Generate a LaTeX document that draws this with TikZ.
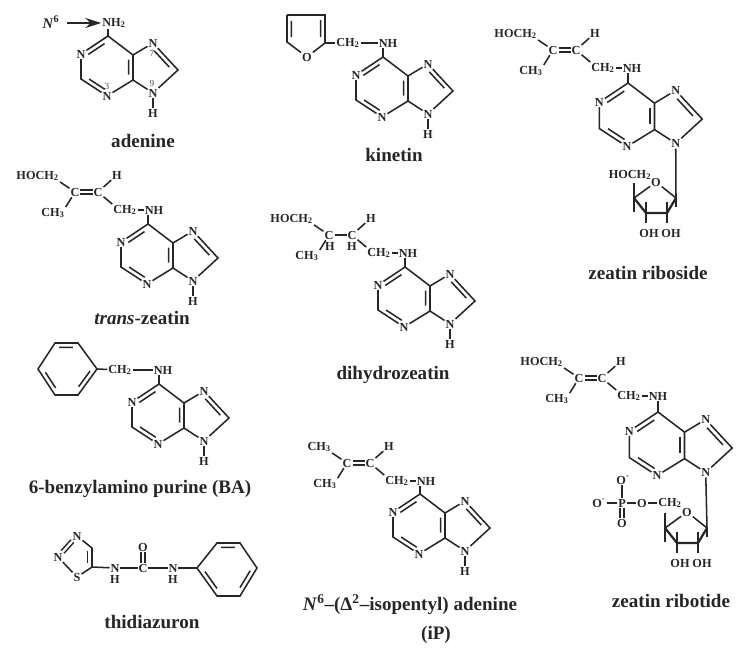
\documentclass[tikz,border=0pt]{standalone}
\usepackage{fontspec}
\setmainfont{Liberation Serif}
\usetikzlibrary{calc,arrows.meta}
\newcommand{\ringdbl}[2]{\draw[bond] ($(#1)!.22!(#2)!3.3pt!90:(#2)$) -- ($(#1)!.82!(#2)!3.3pt!-90:(#1)$);}
\tikzset{
  atom/.style={inner sep=.6pt, font=\fontsize{9.2}{10}\selectfont\bfseries, text=black!85},
  numlab/.style={inner sep=0pt, font=\fontsize{7}{8}\selectfont, text=black!70},
  title/.style={inner sep=0pt, font=\fontsize{14.3}{16}\selectfont\bfseries, text=black!85},
  bond/.style={line width=1.15pt, draw=black!85},
  dblbond/.style={bond, double, double distance=1.7pt},
  fatbond/.style={line width=1.7pt, draw=black!85},
  pics/purine/.style={code={
    \coordinate (-C6) at (0,0);
    \node[atom] (-N1) at (-27,18) {N};
    \coordinate (-C2) at (-27,43);
    \node[atom] (-N3) at (-1,60) {N};
    \coordinate (-C4) at (25,44);
    \coordinate (-C5) at (25,19);
    \node[atom] (-N7) at (45,7) {N};
    \coordinate (-C8) at (70,34);
    \node[atom] (-N9) at (45,57) {N};
    \draw[bond] (-C6) -- (-N1) -- (-C2) -- (-N3) -- (-C4) -- (-C5) -- (-C6);
    \draw[bond] (-C5) -- (-N7) -- (-C8) -- (-N9) -- (-C4);
    \ringdbl{-C6}{-N1}
    \ringdbl{-C2}{-N3}
    \ringdbl{-C4}{-C5}
    \ringdbl{-C8}{-N7}
  }},
  pics/chain/.style={code={
    \node[atom] (-Ca) at (0,0) {C};
    \node[atom] (-Cb) at (23,0) {C};
    \node[atom, anchor=east] (-Top) at (-15,-16) {#1};
    \node[atom] (-Me) at (-22,21) {CH\textsubscript{3}};
    \node[atom] (-Ha) at (42,-17) {H};
    \node[atom] (-CH) at (50,18) {CH\textsubscript{2}};
    \node[atom] (-NH) at (79,18) {NH};
    \draw[bond] (-Top.south east) -- (-Ca);
    \draw[bond] (-Me.north east) -- (-Ca);
    \draw[bond] (-Cb) -- (-Ha);
    \draw[bond] (-Cb) -- (-CH.north west);
    \draw[bond] (-CH) -- (-NH);
  }},
  pics/ribose/.style={code={
    \coordinate (-Ra) at (0,0);
    \coordinate (-Rb) at (-9,15);
    \coordinate (-Rc) at (-30,15);
    \coordinate (-Rd) at (-42,0);
    \node[atom] (-RO) at (-20,-16) {O};
    \node[atom] (-OHa) at (-27,35) {OH};
    \node[atom] (-OHb) at (-5,35) {OH};
    \draw[bond] (-Ra) -- (-RO) -- (-Rd);
    \draw[fatbond] (-Rd) -- (-Rc) -- (-Rb) -- (-Ra);
    % ticks
    \draw[bond] (-42,-15) -- (-42,14);
    \draw[bond] (0,0) -- (0,9);
    \draw[bond] (-30,4) -- (-30,25);
    \draw[bond] (-9,4) -- (-9,25);
  }}
}
\begin{document}
\begin{tikzpicture}[x=.75pt, y=-.75pt]
    \useasboundingbox (0,0) rectangle (749,653);
    % purine rings
    \foreach \m/\x/\y in {ade/108/36, tz/148/224, kin/383/57, dz/405/267, ba/159/384, ip/420/494} {
        \pic (\m) at (\x,\y) {purine};
        \node[atom] (\m-H) at ($(\m-N9)+(0,20)$) {H};
        \draw[bond] (\m-N9) -- (\m-H);
    }
    \pic[scale=1.06] (zr) at (628,83) {purine};
    \pic[scale=1.06] (zrp) at (658,412) {purine};
    % side chains
    \pic (tz) at (75,192) {chain=HOCH\textsubscript{2}};
    \pic (dz) at (329,235) {chain=HOCH\textsubscript{2}};
    \pic (zr) at (553,50) {chain=HOCH\textsubscript{2}};
    \pic (zrp) at (579,378) {chain=HOCH\textsubscript{2}};
    \pic (ip) at (347,463) {chain=CH\textsubscript{3}};
    \foreach \m in {tz, zr, zrp, ip} {
        \draw[dblbond] (\m-Ca) -- (\m-Cb);
    }
    \draw[bond] (dz-Ca) -- (dz-Cb);
    \node[atom] (dz-Ua) at ($(dz-Ca)+(1,11)$) {H};
    \node[atom] (dz-Ub) at ($(dz-Cb)+(0,11)$) {H};
    % adenine
    \node[atom] (ade-NH) at (114,23) {NH\textsubscript{2}};
    \node[atom, font=\fontsize{11}{13}\selectfont\bfseries] (nsix) at (51,22) {\textit{N}\textsuperscript{6}};
    \coordinate (arr) at (67,23);
    \draw[bond, -{Stealth[length=12pt,width=7.5pt]}] (arr) -- (ade-NH);
    \node[numlab] (numa) at (152,53) {7};
    \node[numlab] (numb) at (107,86) {3};
    \node[numlab] (numc) at (152,83) {9};
    % kinetin
    \coordinate (fa) at (287,15);
    \coordinate (fb) at (325,15);
    \coordinate (fc) at (325,43);
    \node[atom] (fo) at (307,57) {O};
    \coordinate (fd) at (287,42);
    \draw[bond] (fa) -- (fb) -- (fc) -- (fo) -- (fd) -- (fa);
    \ringdbl{fa}{fd}
    \ringdbl{fc}{fb}
    \node[atom] (kin-CH) at (348,43) {CH\textsubscript{2}};
    \node[atom] (kin-NH) at (388,43) {NH};
    \draw[bond] (fc) -- (kin-CH);
    \draw[bond] (kin-CH) -- (kin-NH);
    % benzyl
    \coordinate (ba-a) at (78,343);
    \coordinate (ba-b) at (55,343);
    \coordinate (ba-c) at (38,369);
    \coordinate (ba-d) at (55,395);
    \coordinate (ba-e) at (78,395);
    \coordinate (ba-f) at (97,369);
    \draw[bond] (ba-a) -- (ba-b) -- (ba-c) -- (ba-d) -- (ba-e) -- (ba-f) -- cycle;
    \ringdbl{ba-a}{ba-b}
    \ringdbl{ba-c}{ba-d}
    \ringdbl{ba-e}{ba-f}
    \node[atom] (ba-CH) at (120,370) {CH\textsubscript{2}};
    \node[atom] (ba-NH) at (163,370) {NH};
    \draw[bond] (ba-f) -- (ba-CH);
    \draw[bond] (ba-CH) -- (ba-NH);
    % bond down to C6
    \foreach \m in {ade, tz, kin, dz, ba, ip, zr, zrp} {
        \draw[bond] (\m-C6) -- (\m-C6 |- \m-NH.south);
    }
    % thidiazuron
    \node[atom] (td-Na) at (77,536) {N};
    \coordinate (td-Ca) at (92,548);
    \coordinate (td-Cb) at (92,567);
    \node[atom] (td-S) at (77,577) {S};
    \node[atom] (td-Nb) at (58,557) {N};
    \draw[bond] (td-Na) -- (td-Ca) -- (td-Cb) -- (td-S) -- (td-Nb);
    \draw[dblbond] (td-Nb) -- (td-Na);
    \ringdbl{td-Cb}{td-Ca}
    \node[atom] (td-Nc) at (115,568) {N};
    \node[atom] (td-Ha) at (115,579) {H};
    \node[atom] (td-C) at (143,568) {C};
    \node[atom] (td-O) at (143,547) {O};
    \node[atom] (td-Nd) at (173,568) {N};
    \node[atom] (td-Hb) at (173,579) {H};
    \coordinate (ph-a) at (197,568);
    \coordinate (ph-b) at (217,543);
    \coordinate (ph-c) at (240,543);
    \coordinate (ph-d) at (257,568);
    \coordinate (ph-e) at (240,596);
    \coordinate (ph-f) at (217,596);
    \draw[bond] (ph-a) -- (ph-b) -- (ph-c) -- (ph-d) -- (ph-e) -- (ph-f) -- cycle;
    \ringdbl{ph-a}{ph-f}
    \ringdbl{ph-e}{ph-d}
    \ringdbl{ph-c}{ph-b}
    \draw[bond] (td-Cb) -- (td-Nc);
    \draw[bond] (td-Nc) -- (td-C);
    \draw[bond] (td-C) -- (td-Nd);
    \draw[bond] (td-Nd) -- (ph-a);
    \draw[dblbond] (td-C) -- (td-O);
    % riboside sugar
    \pic (zr) at (676,198) {ribose};
    \draw[bond] (zr-N9) -- (zr-Ra);
    \node[atom] (zr-HO) at (630,175) {HOCH\textsubscript{2}};
    % ribotide sugar and phosphate
    \pic (zrp) at (707,528) {ribose};
    \draw[bond] (zrp-N9) -- (zrp-Ra);
    \node[atom] (zrp-CH) at (670,503) {CH\textsubscript{2}};
    \node[atom] (zrp-Oa) at (642,503) {O};
    \node[atom] (zrp-P) at (622,503) {P};
    \node[atom] (zrp-Ob) at (599,503) {O\textsuperscript{-}};
    \node[atom] (zrp-Oc) at (623,480) {O\textsuperscript{-}};
    \node[atom] (zrp-Od) at (622,523) {O};
    \draw[bond] (zrp-CH) -- (zrp-Oa);
    \draw[bond] (zrp-Oa) -- (zrp-P);
    \draw[bond] (zrp-P) -- (zrp-Ob);
    \draw[bond] (zrp-P) -- (zrp-P |- zrp-Oc.south);
    \draw[dblbond] (zrp-P) -- (zrp-Od);
    % names
    \node[title] (t-ade) at (143,141) {adenine};
    \node[title] (t-tz) at (142,318) {\textit{trans}-zeatin};
    \node[title] (t-kin) at (394,155) {kinetin};
    \node[title] (t-dz) at (393,375) {dihydrozeatin};
    \node[title] (t-zr) at (648,273) {zeatin riboside};
    \node[title] (t-zrp) at (671,601) {zeatin ribotide};
    \node[title] (t-ba) at (140,489) {6-benzylamino purine (BA)};
    \node[title] (t-td) at (152,622) {thidiazuron};
    \node[title] (t-ip) at (410,605) {\textit{N}\textsuperscript{6}–(Δ\textsuperscript{2}–isopentyl) adenine};
    \node[title] (t-ipb) at (436,635) {(iP)};
\end{tikzpicture}
\end{document}
